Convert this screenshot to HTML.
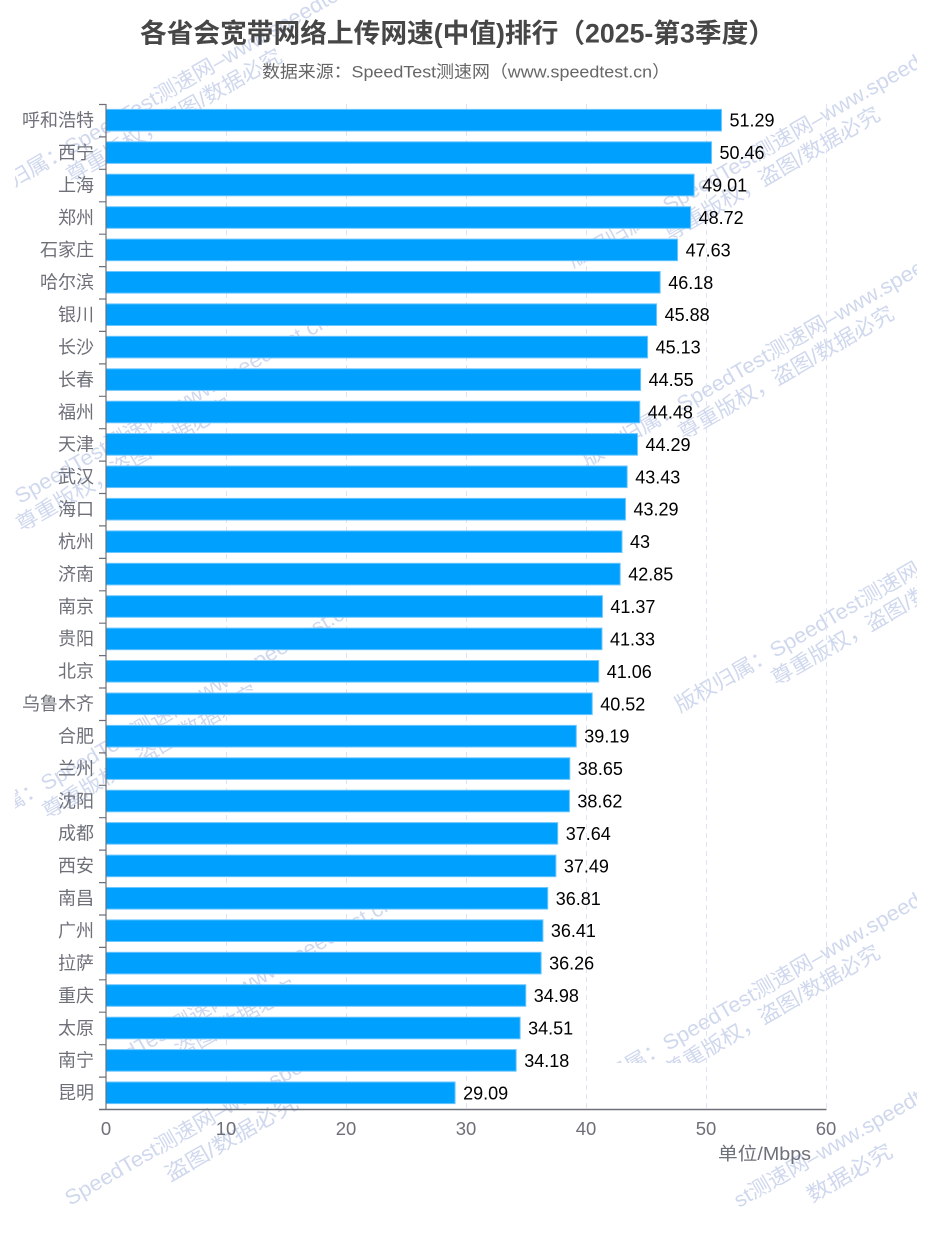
<!DOCTYPE html>
<html><head><meta charset="utf-8"><style>
html,body{margin:0;padding:0;background:#fff;width:939px;height:1243px;overflow:hidden;}
svg{display:block;overflow:hidden;}
text{font-family:"Liberation Sans","Noto Sans CJK SC",sans-serif;}
</style></head><body>
<svg width="939" height="1243" viewBox="0 0 939 1243" xmlns="http://www.w3.org/2000/svg">
<rect width="939" height="1243" fill="#fff"/>
<defs>
<clipPath id="wa"><rect x="15" y="0" width="902" height="1063"/></clipPath>
<clipPath id="wb"><rect x="15" y="1063" width="902" height="150"/></clipPath>
</defs>
<!-- watermarks -->
<g fill="#d0d8ee" font-size="21">
<g clip-path="url(#wa)">
<g transform="translate(-25,210) rotate(-30)"><text x="0" y="0" textLength="468" lengthAdjust="spacingAndGlyphs">版权归属：SpeedTest测速网–www.speedtest.cn</text><text x="97" y="25" textLength="245" lengthAdjust="spacingAndGlyphs">尊重版权，盗图/数据必究</text></g>
<g transform="translate(-75,559) rotate(-30)"><text x="0" y="0" textLength="468" lengthAdjust="spacingAndGlyphs">版权归属：SpeedTest测速网–www.speedtest.cn</text><text x="97" y="25" textLength="245" lengthAdjust="spacingAndGlyphs">尊重版权，盗图/数据必究</text></g>
<g transform="translate(-49,846) rotate(-30)"><text x="0" y="0" textLength="468" lengthAdjust="spacingAndGlyphs">版权归属：SpeedTest测速网–www.speedtest.cn</text><text x="97" y="25" textLength="245" lengthAdjust="spacingAndGlyphs">尊重版权，盗图/数据必究</text></g>
<g transform="translate(-10,1141) rotate(-30)"><text x="0" y="0" textLength="468" lengthAdjust="spacingAndGlyphs">版权归属：SpeedTest测速网–www.speedtest.cn</text><text x="97" y="25" textLength="245" lengthAdjust="spacingAndGlyphs">尊重版权，盗图/数据必究</text></g>
<g transform="translate(573,268) rotate(-30)"><text x="0" y="0" textLength="468" lengthAdjust="spacingAndGlyphs">版权归属：SpeedTest测速网–www.speedtest.cn</text><text x="97" y="25" textLength="245" lengthAdjust="spacingAndGlyphs">尊重版权，盗图/数据必究</text></g>
<g transform="translate(587,467) rotate(-30)"><text x="0" y="0" textLength="468" lengthAdjust="spacingAndGlyphs">版权归属：SpeedTest测速网–www.speedtest.cn</text><text x="97" y="25" textLength="245" lengthAdjust="spacingAndGlyphs">尊重版权，盗图/数据必究</text></g>
<g transform="translate(680,713) rotate(-30)"><text x="0" y="0" textLength="468" lengthAdjust="spacingAndGlyphs">版权归属：SpeedTest测速网–www.speedtest.cn</text><text x="97" y="25" textLength="245" lengthAdjust="spacingAndGlyphs">尊重版权，盗图/数据必究</text></g>
<g transform="translate(573,1106) rotate(-30)"><text x="0" y="0" textLength="468" lengthAdjust="spacingAndGlyphs">版权归属：SpeedTest测速网–www.speedtest.cn</text><text x="97" y="25" textLength="245" lengthAdjust="spacingAndGlyphs">尊重版权，盗图/数据必究</text></g>
</g>
<g clip-path="url(#wb)">
<g transform="translate(70,1206) rotate(-30)"><text x="0" y="0" textLength="360" lengthAdjust="spacingAndGlyphs">SpeedTest测速网–www.speedtest.cn</text></g>
<g transform="translate(170,1182) rotate(-30)"><text x="0" y="0" textLength="150" lengthAdjust="spacingAndGlyphs">盗图/数据必究</text></g>
<g transform="translate(739,1208) rotate(-30)"><text x="0" y="0" textLength="271" lengthAdjust="spacingAndGlyphs">st测速网–www.speedtest.cn</text></g>
<g transform="translate(812,1203) rotate(-30)"><text x="0" y="0" textLength="95" lengthAdjust="spacingAndGlyphs">数据必究</text></g>
</g>
</g>

<!-- title -->
<text x="140" y="42.5" font-size="26.5" font-weight="bold" fill="#464646" textLength="635" lengthAdjust="spacingAndGlyphs">各省会宽带网络上传网速(中值)排行（2025-第3季度）</text>
<text x="262" y="77.5" font-size="17" fill="#666" textLength="408" lengthAdjust="spacingAndGlyphs">数据来源：SpeedTest测速网（www.speedtest.cn）</text>

<!-- grid -->
<g stroke="#dde3f3" stroke-width="1" stroke-dasharray="5,4">
<line x1="226.5" y1="104" x2="226.5" y2="1109"/>
<line x1="346.5" y1="104" x2="346.5" y2="1109"/>
<line x1="466.5" y1="104" x2="466.5" y2="1109"/>
<line x1="586.5" y1="104" x2="586.5" y2="1109"/>
<line x1="706.5" y1="104" x2="706.5" y2="1109"/>
<line x1="826.5" y1="104" x2="826.5" y2="1109"/>
</g>

<!-- bars -->
<g fill="#00a0ff" stroke="#6cc6ff" stroke-width="1">
<rect x="106" y="109.4" width="615.48" height="21.6"/>
<rect x="106" y="141.8" width="605.52" height="21.6"/>
<rect x="106" y="174.2" width="588.12" height="21.6"/>
<rect x="106" y="206.7" width="584.64" height="21.6"/>
<rect x="106" y="239.1" width="571.56" height="21.6"/>
<rect x="106" y="271.5" width="554.16" height="21.6"/>
<rect x="106" y="303.9" width="550.56" height="21.6"/>
<rect x="106" y="336.3" width="541.56" height="21.6"/>
<rect x="106" y="368.8" width="534.6" height="21.6"/>
<rect x="106" y="401.2" width="533.76" height="21.6"/>
<rect x="106" y="433.6" width="531.48" height="21.6"/>
<rect x="106" y="466.0" width="521.16" height="21.6"/>
<rect x="106" y="498.4" width="519.48" height="21.6"/>
<rect x="106" y="530.9" width="516" height="21.6"/>
<rect x="106" y="563.3" width="514.2" height="21.6"/>
<rect x="106" y="595.7" width="496.44" height="21.6"/>
<rect x="106" y="628.1" width="495.96" height="21.6"/>
<rect x="106" y="660.5" width="492.72" height="21.6"/>
<rect x="106" y="693.0" width="486.24" height="21.6"/>
<rect x="106" y="725.4" width="470.28" height="21.6"/>
<rect x="106" y="757.8" width="463.8" height="21.6"/>
<rect x="106" y="790.2" width="463.44" height="21.6"/>
<rect x="106" y="822.6" width="451.68" height="21.6"/>
<rect x="106" y="855.1" width="449.88" height="21.6"/>
<rect x="106" y="887.5" width="441.72" height="21.6"/>
<rect x="106" y="919.9" width="436.92" height="21.6"/>
<rect x="106" y="952.3" width="435.12" height="21.6"/>
<rect x="106" y="984.7" width="419.76" height="21.6"/>
<rect x="106" y="1017.2" width="414.12" height="21.6"/>
<rect x="106" y="1049.6" width="410.16" height="21.6"/>
<rect x="106" y="1082.0" width="349.08" height="21.6"/>
</g>

<!-- value labels -->
<g font-size="18" fill="#000">
<text x="729.5" y="126.7">51.29</text>
<text x="719.5" y="159.1">50.46</text>
<text x="702.1" y="191.5">49.01</text>
<text x="698.6" y="224.0">48.72</text>
<text x="685.6" y="256.4">47.63</text>
<text x="668.2" y="288.8">46.18</text>
<text x="664.6" y="321.2">45.88</text>
<text x="655.6" y="353.6">45.13</text>
<text x="648.6" y="386.1">44.55</text>
<text x="647.8" y="418.5">44.48</text>
<text x="645.5" y="450.9">44.29</text>
<text x="635.2" y="483.3">43.43</text>
<text x="633.5" y="515.7">43.29</text>
<text x="630.0" y="548.2">43</text>
<text x="628.2" y="580.6">42.85</text>
<text x="610.4" y="613.0">41.37</text>
<text x="610.0" y="645.4">41.33</text>
<text x="606.7" y="677.8">41.06</text>
<text x="600.2" y="710.3">40.52</text>
<text x="584.3" y="742.7">39.19</text>
<text x="577.8" y="775.1">38.65</text>
<text x="577.4" y="807.5">38.62</text>
<text x="565.7" y="839.9">37.64</text>
<text x="563.9" y="872.4">37.49</text>
<text x="555.7" y="904.8">36.81</text>
<text x="550.9" y="937.2">36.41</text>
<text x="549.1" y="969.6">36.26</text>
<text x="533.8" y="1002.0">34.98</text>
<text x="528.1" y="1034.5">34.51</text>
<text x="524.2" y="1066.9">34.18</text>
<text x="463.1" y="1099.3">29.09</text>
</g>

<!-- y labels -->
<g font-size="18" fill="#6e7079" text-anchor="end">
<text x="94" y="126.5">呼和浩特</text>
<text x="94" y="158.9">西宁</text>
<text x="94" y="191.3">上海</text>
<text x="94" y="223.8">郑州</text>
<text x="94" y="256.2">石家庄</text>
<text x="94" y="288.6">哈尔滨</text>
<text x="94" y="321.0">银川</text>
<text x="94" y="353.4">长沙</text>
<text x="94" y="385.9">长春</text>
<text x="94" y="418.3">福州</text>
<text x="94" y="450.7">天津</text>
<text x="94" y="483.1">武汉</text>
<text x="94" y="515.5">海口</text>
<text x="94" y="548.0">杭州</text>
<text x="94" y="580.4">济南</text>
<text x="94" y="612.8">南京</text>
<text x="94" y="645.2">贵阳</text>
<text x="94" y="677.6">北京</text>
<text x="94" y="710.1">乌鲁木齐</text>
<text x="94" y="742.5">合肥</text>
<text x="94" y="774.9">兰州</text>
<text x="94" y="807.3">沈阳</text>
<text x="94" y="839.7">成都</text>
<text x="94" y="872.2">西安</text>
<text x="94" y="904.6">南昌</text>
<text x="94" y="937.0">广州</text>
<text x="94" y="969.4">拉萨</text>
<text x="94" y="1001.8">重庆</text>
<text x="94" y="1034.3">太原</text>
<text x="94" y="1066.7">南宁</text>
<text x="94" y="1099.1">昆明</text>
</g>

<!-- axes -->
<g stroke="#6e7079" stroke-width="1.2" fill="none">
<line x1="106" y1="104" x2="106" y2="1109.5"/>
<line x1="99" y1="1109.5" x2="826.5" y2="1109.5" stroke-width="1.5"/>
<path d="M99 104.5H106M99 136.9H106M99 169.3H106M99 201.8H106M99 234.2H106M99 266.6H106M99 299H106M99 331.4H106M99 363.9H106M99 396.3H106M99 428.7H106M99 461.1H106M99 493.5H106M99 525.9H106M99 558.4H106M99 590.8H106M99 623.2H106M99 655.6H106M99 688H106M99 720.5H106M99 752.9H106M99 785.3H106M99 817.7H106M99 850.1H106M99 882.6H106M99 915H106M99 947.4H106M99 979.8H106M99 1012.2H106M99 1044.7H106M99 1077.1H106"/>
</g>

<!-- x labels -->
<g font-size="18.5" fill="#6e7079" text-anchor="middle">
<text x="106" y="1135">0</text>
<text x="226" y="1135">10</text>
<text x="346" y="1135">20</text>
<text x="466" y="1135">30</text>
<text x="586" y="1135">40</text>
<text x="706" y="1135">50</text>
<text x="826" y="1135">60</text>
</g>
<text x="718" y="1160" font-size="18" fill="#6e7079" textLength="93" lengthAdjust="spacingAndGlyphs">单位/Mbps</text>
</svg>
</body></html>
